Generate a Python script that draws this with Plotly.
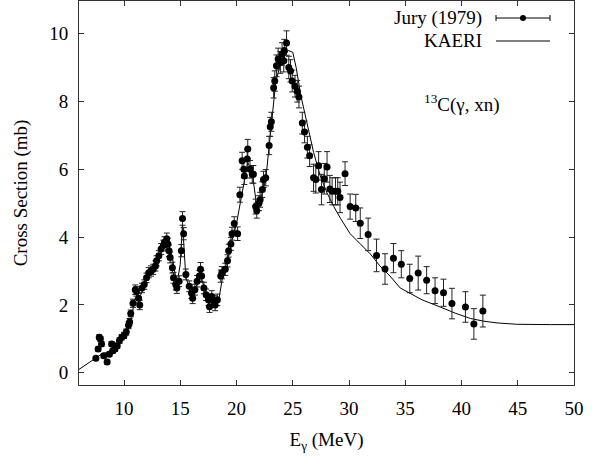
import plotly.graph_objects as go

# Jury (1979) data: photon energy (MeV), cross section (mb), error (mb)
jury_E = [7.5, 7.7, 7.8, 7.9, 8.0, 8.2, 8.5, 8.7, 8.9, 9.0, 9.2, 9.4, 9.6, 9.8, 10.0, 10.2, 10.4, 10.5, 10.6, 10.8,
          11.0, 11.1, 11.3, 11.4, 11.6, 11.8, 12.0, 12.2, 12.4, 12.6, 12.8, 12.9, 13.1, 13.3, 13.5, 13.6, 13.8, 13.9,
          14.0, 14.1, 14.3, 14.4, 14.6, 14.7, 14.9, 15.1, 15.2, 15.3, 15.5, 15.8, 16.0, 16.1, 16.3, 16.5, 16.7, 16.8,
          16.9, 17.1, 17.3, 17.5, 17.6, 17.8, 18.0, 18.1, 18.3, 18.6, 18.7, 19.0, 19.2, 19.3, 19.5, 19.6, 19.8, 20.1,
          20.3, 20.5, 20.65, 20.7, 20.95, 21.0, 21.2, 21.4, 21.5, 21.7, 21.8, 22.0, 22.1, 22.3, 22.4, 22.6, 22.9, 23.0,
          23.1, 23.3, 23.4, 23.55, 23.7, 23.9, 24.05, 24.2, 24.25, 24.45, 24.65, 24.8, 24.95, 25.2, 25.4, 25.55, 25.85,
          26.05, 26.3, 26.5, 26.85, 27.05, 27.3, 27.55, 27.8, 28.05, 28.3, 28.5, 28.8, 29.0, 29.2, 29.65, 30.1, 30.6,
          31.0, 31.7, 32.45, 33.2, 33.95, 34.65, 35.4, 36.15, 36.9, 37.65, 38.4, 39.15, 40.35, 41.1, 41.9]
jury_xs = [0.43, 0.70, 1.05, 1.00, 0.85, 0.50, 0.32, 0.55, 0.85, 0.65, 0.70, 0.80, 0.95, 1.05, 1.10, 1.20, 1.40, 1.50, 1.75, 2.05,
           2.45, 2.40, 2.20, 2.00, 2.50, 2.60, 2.80, 2.95, 3.00, 3.05, 3.15, 3.30, 3.45, 3.65, 3.75, 3.85, 3.95, 3.80,
           3.60, 3.40, 3.10, 2.80, 2.60, 2.50, 2.70, 3.60, 4.55, 4.10, 2.90, 2.55, 2.35, 2.20, 2.45, 2.70, 2.85, 3.05,
           2.85, 2.50, 2.30, 2.15, 1.95, 2.25, 2.10, 2.00, 2.15, 2.85, 2.95, 3.05, 3.30, 3.60, 3.80, 4.10, 4.40, 4.10,
           5.25, 6.25, 6.00, 5.80, 6.30, 6.60, 6.00, 5.85, 5.85, 4.90, 4.78, 5.00, 5.10, 5.40, 5.70, 5.75, 6.70, 7.25,
           7.40, 8.40, 8.60, 9.05, 9.25, 9.15, 9.40, 9.20, 9.50, 9.72, 9.00, 8.90, 8.60, 8.45, 8.30, 8.13, 7.36,
           7.10, 6.65, 6.40, 5.75, 5.70, 6.10, 5.40, 5.72, 6.07, 5.42, 5.35, 5.35, 5.35, 5.17, 5.87, 4.90, 4.86,
           4.41, 4.08, 3.46, 3.06, 3.38, 3.20, 2.78, 2.94, 2.73, 2.42, 2.36, 2.04, 1.94, 1.44, 1.82]
jury_err = [0.05, 0.06, 0.07, 0.07, 0.07, 0.06, 0.06, 0.06, 0.07, 0.07, 0.07, 0.08, 0.08, 0.08, 0.09, 0.09, 0.10, 0.10, 0.10, 0.12,
            0.14, 0.14, 0.14, 0.14, 0.14, 0.14, 0.14, 0.15, 0.15, 0.15, 0.15, 0.15, 0.15, 0.16, 0.16, 0.16, 0.17, 0.17,
            0.17, 0.16, 0.16, 0.16, 0.16, 0.16, 0.16, 0.18, 0.20, 0.18, 0.16, 0.16, 0.16, 0.16, 0.16, 0.17, 0.17, 0.20,
            0.17, 0.17, 0.17, 0.17, 0.17, 0.17, 0.17, 0.17, 0.17, 0.18, 0.18, 0.18, 0.18, 0.19, 0.19, 0.19, 0.20, 0.20,
            0.22, 0.25, 0.25, 0.25, 0.28, 0.28, 0.26, 0.26, 0.26, 0.22, 0.22, 0.22, 0.22, 0.23, 0.24, 0.24, 0.27, 0.28,
            0.28, 0.30, 0.30, 0.32, 0.32, 0.32, 0.33, 0.33, 0.33, 0.36, 0.33, 0.33, 0.32, 0.32, 0.32, 0.32, 0.32,
            0.32, 0.32, 0.32, 0.40, 0.40, 0.42, 0.45, 0.45, 0.45, 0.40, 0.40, 0.40, 0.40, 0.45, 0.35, 0.37, 0.40,
            0.45, 0.48, 0.48, 0.45, 0.43, 0.40, 0.42, 0.50, 0.40, 0.38, 0.40, 0.45, 0.45, 0.45, 0.47]

# KAERI evaluation curve
kaeri_E = [6.0, 7.5, 8.0, 8.5, 9.0, 9.5, 10.0, 10.5, 11.0, 11.5, 12.0, 12.5, 13.0, 13.5, 13.9, 14.3, 14.7, 15.0,
           15.2, 15.5, 16.0, 16.5, 16.8, 17.2, 17.6, 18.0, 18.4, 18.8, 19.2, 19.6, 20.0, 20.5, 21.0, 21.4, 21.8, 22.2,
           22.6, 23.0, 23.5, 24.0, 24.6, 25.0, 25.3, 25.7, 26.3, 26.85, 27.45, 28.05, 28.65, 29.25, 30.1, 31.0, 31.9,
           32.75, 33.65, 34.55, 35.4, 36.5, 38.1, 39.5, 40.8, 42.0, 43.15, 44.9, 47.9, 50.0]
kaeri_xs = [0.10, 0.43, 0.55, 0.60, 0.70, 0.85, 1.05, 1.40, 2.20, 2.30, 2.70, 3.00, 3.30, 3.70, 3.85, 3.40, 2.60, 3.20,
            4.40, 2.80, 2.35, 2.60, 2.90, 2.40, 2.20, 2.05, 2.10, 2.90, 3.30, 3.90, 4.40, 5.30, 6.20, 5.90, 4.90, 5.20,
            5.70, 7.00, 8.60, 9.20, 9.50, 9.45, 9.00, 8.20, 7.30, 6.50, 5.80, 5.30, 4.90, 4.55, 4.10, 3.80, 3.50,
            3.15, 2.85, 2.50, 2.34, 2.15, 1.94, 1.75, 1.60, 1.52, 1.47, 1.43, 1.42, 1.42]

x_ticks = [10, 15, 20, 25, 30, 35, 40, 45, 50]
y_ticks = [0, 2, 4, 6, 8, 10]

FONT = "Times New Roman, Liberation Serif, DejaVu Serif, serif"
FS = 19

fig = go.Figure()
fig.add_trace(go.Scatter(
    x=kaeri_E, y=kaeri_xs, mode="lines", name="KAERI",
    line=dict(color="black", width=1), showlegend=False))
fig.add_trace(go.Scatter(
    x=jury_E, y=jury_xs, mode="markers", name="Jury (1979)",
    marker=dict(color="black", size=7),
    error_y=dict(type="data", array=jury_err, visible=True, color="#222222", thickness=1, width=3),
    showlegend=False))

# plot area in pixels (for legend decoration placement)
L, R, T, B = 79, 23, 1, 81
W, H = 597, 466
pw, ph = W - L - R, H - T - B
def px(xp):
    return (xp - L) / pw
def py(yp):
    return (H - B - yp) / ph

shapes = []
# legend sample: Jury (1979) errorbar-like line with dot
ly1, ly2 = 18, 41
shapes.append(dict(type="line", xref="paper", yref="paper", x0=px(496), x1=px(550), y0=py(ly1), y1=py(ly1),
                   line=dict(color="black", width=1)))
for xx in (496, 550):
    shapes.append(dict(type="line", xref="paper", yref="paper", x0=px(xx), x1=px(xx), y0=py(ly1 - 3), y1=py(ly1 + 3),
                       line=dict(color="black", width=1)))
shapes.append(dict(type="circle", xref="paper", yref="paper", x0=px(520), x1=px(526), y0=py(ly1 + 3), y1=py(ly1 - 3),
                   fillcolor="black", line=dict(color="black", width=0)))
shapes.append(dict(type="line", xref="paper", yref="paper", x0=px(496), x1=px(550), y0=py(ly2), y1=py(ly2),
                   line=dict(color="black", width=1)))

tfont = dict(family=FONT, size=FS, color="black")
annotations = [
    dict(text="Jury (1979)", xref="paper", yref="paper", x=px(484), y=py(ly1), xanchor="right", yanchor="middle",
         showarrow=False, font=tfont),
    dict(text="KAERI", xref="paper", yref="paper", x=px(484), y=py(ly2), xanchor="right", yanchor="middle",
         showarrow=False, font=tfont),
    dict(text="<sup>13</sup>C(γ, xn)", xref="paper", yref="paper", x=px(462), y=py(103), xanchor="center",
         yanchor="middle", showarrow=False, font=tfont),
]

axis_common = dict(showline=True, mirror="ticks", linecolor="#333333", linewidth=1, ticks="inside", ticklen=5,
                   tickcolor="#333333", showgrid=False, zeroline=False, tickfont=tfont)

fig.update_layout(
    width=W, height=H,
    margin=dict(l=L, r=R, t=T, b=B),
    paper_bgcolor="white", plot_bgcolor="white",
    font=tfont,
    xaxis=dict(range=[6, 50], tickvals=x_ticks, ticktext=[str(v) for v in x_ticks], ticklabelstandoff=6,
               title=dict(text="E<sub>γ</sub> (MeV)", standoff=14, font=tfont),
               **axis_common),
    yaxis=dict(range=[-0.36, 10.96], tickvals=y_ticks, ticktext=[str(v) for v in y_ticks], ticklabelstandoff=6,
               title=dict(text="Cross Section (mb)", standoff=16, font=tfont),
               **axis_common),
    shapes=shapes, annotations=annotations,
)

fig.write_html("out.html")
